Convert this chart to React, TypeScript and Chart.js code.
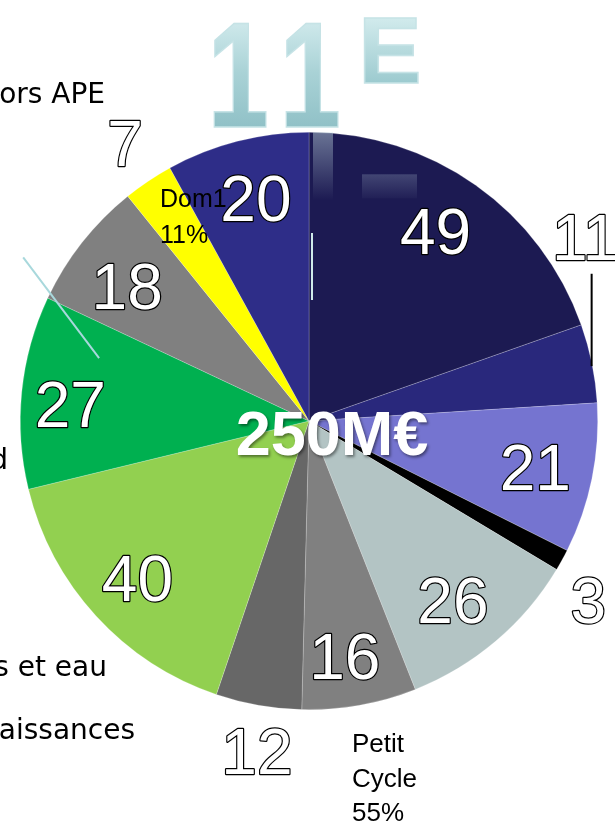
import React, { useEffect, useRef } from "react";
import { Chart, registerables } from "chart.js";

Chart.register(...registerables);

// ---- data ----
const sliceNames = ["S1", "S2", "S3", "S4", "S5", "S6", "S7", "S8", "S9", "S10", "S11", "S12"];
const sliceValues = [49, 11, 21, 3, 26, 16, 12, 40, 27, 18, 7, 20];
const sliceColors = [
  "#1c1a52", "#29287c", "#7574d0", "#000000", "#b3c4c4", "#808080",
  "#676767", "#92d050", "#00b050", "#808080", "#ffff00", "#2e2d88",
];
// label placement relative to each slice (radius factor, angle shift in degrees)
const labelRadius = [0.79, 1.15, 0.8, 1.15, 0.795, 0.823, 1.156, 0.806, 0.829, 0.784, 1.153, 0.793];
const labelShift = [-1.6, -22.2, 0, 3.9, 1.5, 1.4, -1.1, 0, -1.7, -1.6, 0.3, 1];
const totalLabel = "250M€";
const sideTexts = [
  { text: "ors APE", right: 105, base: 103 },
  { text: "d", right: 8, base: 469 },
  { text: "s et eau", right: 107, base: 676 },
  { text: "aissances", right: 135, base: 739 },
];

const labelPlugin = {
  id: "labels",
  beforeDraw(chart: any) {
    const ctx = chart.ctx;
    ctx.save();
    // watermark 11E
    const g = ctx.createLinearGradient(0, 15, 0, 130);
    g.addColorStop(0, "#d4ecee");
    g.addColorStop(0.5, "#a9d2d6");
    g.addColorStop(1, "#8fc0c6");
    ctx.fillStyle = g;
    ctx.strokeStyle = "#c6e3e6";
    ctx.lineWidth = 1.5;
    ctx.textAlign = "center";
    ctx.textBaseline = "alphabetic";
    ctx.font = "bold 150px 'Liberation Sans', Arial, sans-serif";
    ctx.save();
    ctx.scale(0.74, 1);
    ctx.fillText("1", 238 / 0.74, 127);
    ctx.strokeText("1", 238 / 0.74, 127);
    ctx.fillText("1", 310 / 0.74, 127);
    ctx.strokeText("1", 310 / 0.74, 127);
    ctx.restore();
    const g2 = ctx.createLinearGradient(0, 15, 0, 83);
    g2.addColorStop(0, "#d4ecee");
    g2.addColorStop(1, "#9ccacf");
    ctx.fillStyle = g2;
    ctx.font = "bold 95px 'Liberation Sans', Arial, sans-serif";
    ctx.fillText("E", 390, 83);
    ctx.strokeText("E", 390, 83);
    ctx.restore();
  },
  afterDatasetsDraw(chart: any) {
    const ctx = chart.ctx;
    const meta = chart.getDatasetMeta(0);
    ctx.save();
    let cx = 0, cy = 0, R = 0;
    meta.data.forEach((arc: any, i: number) => {
      const p = arc.getProps(["x", "y", "startAngle", "endAngle", "outerRadius"], true);
      cx = p.x; cy = p.y; R = p.outerRadius;
      const a = (p.startAngle + p.endAngle) / 2 + (labelShift[i] * Math.PI) / 180;
      const r = p.outerRadius * labelRadius[i];
      const x = p.x + Math.cos(a) * r;
      const y = p.y + Math.sin(a) * r;
      const fs = 64;
      ctx.font = `${fs}px 'Liberation Sans', Arial, sans-serif`;
      ctx.textAlign = "center";
      ctx.textBaseline = "alphabetic";
      ctx.lineJoin = "round";
      ctx.lineWidth = 2.4;
      ctx.strokeStyle = "#000000";
      const t = String(sliceValues[i]);
      ctx.strokeText(t, x, y + fs * 0.358);
      ctx.fillStyle = "#ffffff";
      ctx.fillText(t, x, y + fs * 0.358);
    });

    // reflections of the watermark over the pie
    const rg = ctx.createLinearGradient(0, cy - R, 0, cy - R + 68);
    rg.addColorStop(0, "rgba(200,225,230,0.45)");
    rg.addColorStop(1, "rgba(200,225,230,0)");
    ctx.fillStyle = rg;
    ctx.fillRect(cx + 4, cy - R, 20, 68);
    const rg2 = ctx.createLinearGradient(0, cy - R + 42, 0, cy - R + 66);
    rg2.addColorStop(0, "rgba(180,200,215,0.25)");
    rg2.addColorStop(1, "rgba(180,200,215,0.03)");
    ctx.fillStyle = rg2;
    ctx.fillRect(cx + 53, cy - R + 42, 55, 24);
    ctx.strokeStyle = "#cfeaea";
    ctx.lineWidth = 2;
    ctx.beginPath();
    ctx.moveTo(cx + 3, cy - 188);
    ctx.lineTo(cx + 3, cy - 121);
    ctx.stroke();

    // leader lines
    ctx.strokeStyle = "#000000";
    ctx.lineWidth = 2;
    ctx.beginPath();
    ctx.moveTo(cx + R * 0.979, cy - R * 0.51);
    ctx.lineTo(cx + R * 0.979, cy - R * 0.19);
    ctx.stroke();
    ctx.strokeStyle = "#a8d8dc";
    ctx.beginPath();
    ctx.moveTo(cx - R * 0.99, cy - R * 0.567);
    ctx.lineTo(cx - R * 0.727, cy - R * 0.218);
    ctx.stroke();

    // center total
    ctx.font = "bold 63px 'Liberation Sans', Arial, sans-serif";
    ctx.textAlign = "center";
    ctx.textBaseline = "alphabetic";
    ctx.shadowColor = "rgba(0,0,0,0.45)";
    ctx.shadowBlur = 3;
    ctx.shadowOffsetX = 1.5;
    ctx.shadowOffsetY = 1.5;
    ctx.fillStyle = "#ffffff";
    ctx.fillText(totalLabel, cx + 23, cy + 34);
    ctx.shadowColor = "transparent";

    // annotation texts
    ctx.fillStyle = "#000000";
    ctx.textAlign = "left";
    ctx.font = "25px 'Liberation Sans', Arial, sans-serif";
    ctx.fillText("Dom1", 160, 207);
    ctx.fillText("11%", 160, 243);
    ctx.font = "26px 'Liberation Sans', Arial, sans-serif";
    ctx.fillText("Petit", 352, 752);
    ctx.fillText("Cycle", 352, 787);
    ctx.fillText("55%", 352, 821);
    ctx.textAlign = "right";
    ctx.font = "28px 'DejaVu Sans', Verdana, sans-serif";
    sideTexts.forEach((s) => ctx.fillText(s.text, s.right, s.base));
    ctx.restore();
  },
};

export default function App() {
  const ref = useRef<HTMLCanvasElement | null>(null);
  useEffect(() => {
    if (!ref.current) return;
    const chart = new Chart(ref.current, {
      type: "pie",
      data: {
        labels: sliceNames,
        datasets: [
          {
            data: sliceValues,
            backgroundColor: sliceColors,
            borderColor: "rgba(255,255,255,0.35)",
            borderWidth: 0.6,
          },
        ],
      },
      options: {
        responsive: false,
        animation: false,
        layout: { padding: { left: 20, right: 17, top: 132, bottom: 116 } },
        plugins: { legend: { display: false }, tooltip: { enabled: false } },
      },
      plugins: [labelPlugin],
    });
    return () => chart.destroy();
  }, []);
  return (
    <div style={{ position: "absolute", left: 0, top: 0, width: 615, height: 826, background: "#fff" }}>
      <canvas ref={ref} width={615} height={826} style={{ display: "block" }} />
    </div>
  );
}
